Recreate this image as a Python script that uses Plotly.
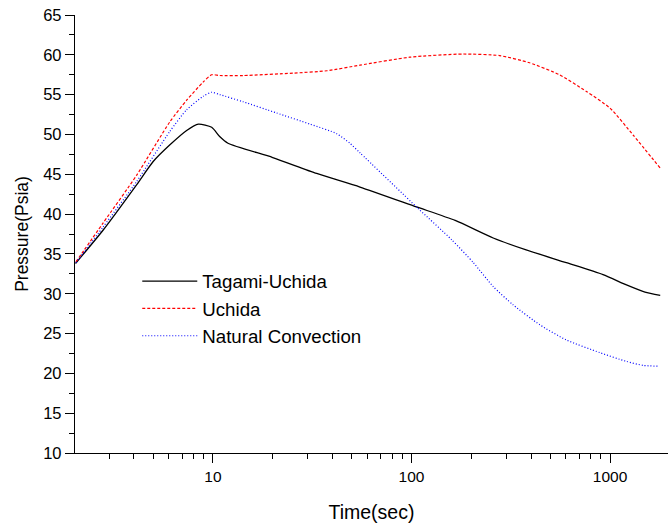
import plotly.graph_objects as go

# Tagami-Uchida
t_tagami = [2.03, 2.8, 4.13, 5.0, 6.07, 7.37, 8.44, 9.85, 10.84, 11.9, 20, 33.3, 55, 106, 166, 258, 378, 602, 922, 1210, 1500, 1790]
p_tagami = [33.8, 38.0, 43.7, 46.6, 48.7, 50.5, 51.3, 50.9, 49.7, 48.9, 47.1, 45.1, 43.4, 40.9, 39.2, 37.0, 35.5, 33.9, 32.4, 31.1, 30.2, 29.8]

# Uchida
t_uchida = [2.04, 2.8, 4.13, 6.07, 7.37, 8.94, 9.85, 10.84, 14.2, 25.4, 37.5, 55, 98, 182, 278, 393, 556, 760, 1000, 1310, 1800]
p_uchida = [34.0, 38.9, 44.9, 51.6, 54.3, 56.6, 57.5, 57.4, 57.4, 57.7, 58.0, 58.7, 59.7, 60.1, 59.9, 59.0, 57.5, 55.4, 53.3, 49.9, 45.7]

# Natural Convection
t_natural = [2.04, 2.8, 4.13, 6.07, 7.37, 8.94, 9.85, 10.84, 14.2, 20.9, 30.8, 42.0, 48.9, 55, 108, 159, 205, 258, 325, 443, 602, 889, 1210, 1470, 1760]
p_natural = [33.9, 38.4, 44.1, 50.4, 53.1, 54.8, 55.3, 55.0, 54.1, 52.7, 51.3, 50.1, 48.9, 47.7, 40.7, 36.8, 33.9, 30.9, 28.6, 26.1, 24.2, 22.6, 21.5, 21.0, 20.9]

x_major = [10, 100, 1000]
x_minor = [3, 4, 5, 6, 7, 8, 9, 20, 30, 40, 50, 60, 70, 80, 90, 200, 300, 400, 500, 600, 700, 800, 900]
y_major = [10, 15, 20, 25, 30, 35, 40, 45, 50, 55, 60, 65]

FONT = "Liberation Sans, Arial, sans-serif"

fig = go.Figure()
fig.add_trace(go.Scatter(x=t_tagami, y=p_tagami, mode="lines", name="Tagami-Uchida",
                         line=dict(color="black", width=1.3, shape="spline", smoothing=0.6)))
fig.add_trace(go.Scatter(x=t_uchida, y=p_uchida, mode="lines", name="Uchida",
                         line=dict(color="#ff0000", width=1.2, dash="3px,2px", shape="spline", smoothing=0.6)))
fig.add_trace(go.Scatter(x=t_natural, y=p_natural, mode="lines", name="Natural Convection",
                         line=dict(color="#0000ff", width=1.2, dash="1px,2px", shape="spline", smoothing=0.6)))

fig.update_layout(
    width=668, height=532,
    margin=dict(l=75, r=0, t=15, b=79, autoexpand=False),
    paper_bgcolor="white", plot_bgcolor="white",
    font=dict(family=FONT, color="black", size=16),
    showlegend=True,
    legend=dict(x=0.105, y=0.435, xanchor="left", yanchor="top",
                itemwidth=55,
                font=dict(family=FONT, size=18.7, color="black"),
                bgcolor="rgba(0,0,0,0)", borderwidth=0),
    xaxis=dict(type="log", range=[0.305, 3.292], automargin=False,
               tickvals=x_major, ticktext=[str(v) for v in x_major],
               ticks="outside", ticklen=9, tickwidth=1.2, tickcolor="black",
               showline=True, linecolor="black", linewidth=1.3,
               showgrid=False, zeroline=False, ticklabeloverflow="allow",
               tickfont=dict(size=15.5),
               minor=dict(tickvals=x_minor, ticks="outside", ticklen=5, tickwidth=1.2, tickcolor="black", showgrid=False),
               title=dict(text="Time(sec)", font=dict(size=19.5), standoff=21)),
    yaxis=dict(range=[10, 65], automargin=False,
               tickvals=y_major,
               ticks="outside", ticklen=9, tickwidth=1.2, tickcolor="black",
               showline=True, linecolor="black", linewidth=1.3,
               showgrid=False, zeroline=False, ticklabeloverflow="allow",
               tickfont=dict(size=16.5),
               minor=dict(dtick=2.5, ticks="outside", ticklen=5, tickwidth=1.2, tickcolor="black", showgrid=False),
               title=dict(text="Pressure(Psia)", font=dict(size=17.5), standoff=10)),
)

fig.write_html("out.html", config={"displayModeBar": False},
               post_script="document.body.style.margin='0';document.body.style.overflow='hidden';")
